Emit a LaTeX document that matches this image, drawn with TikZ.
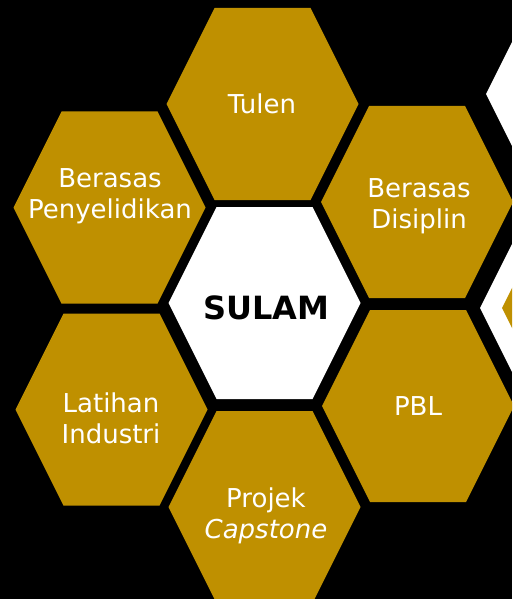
\documentclass[tikz,border=0pt]{standalone}
\usepackage{fontspec}
\setmainfont{DejaVu Sans}
\definecolor{gold}{HTML}{BF9000}
% hexagon with pointed left/right ends: centre x, centre y, half width, colour
\newcommand{\hexcell}[4]{%
  \fill[#4] (#1-#3,#2) -- (#1-#3/2,#2-#3) -- (#1+#3/2,#2-#3)
    -- (#1+#3,#2) -- (#1+#3/2,#2+#3) -- (#1-#3/2,#2+#3) -- cycle;}
\tikzset{
  celltext/.style={text=white,align=center,inner sep=0pt,
    font=\fontsize{19.5}{23.25}\selectfont},
  hubtext/.style={text=black,inner sep=0pt,
    font=\fontsize{24}{28}\selectfont\bfseries}
}
\begin{document}
\begin{tikzpicture}[x=0.75pt,y=-0.75pt]
  \fill[black] (0,0) rectangle (512,599);
  \clip (0,0) rectangle (512,599);
  \hexcell{262.5}{104}{96}{gold}
  \hexcell{109.5}{207.5}{96}{gold}
  \hexcell{111.5}{409.5}{96}{gold}
  \hexcell{264.5}{303}{96}{white}
  \hexcell{264.5}{507}{96}{gold}
  \hexcell{417}{202}{96}{gold}
  \hexcell{418}{406}{96}{gold}
  \hexcell{582}{94}{96}{white}
  \hexcell{576}{308}{96}{white}
  \hexcell{576}{308}{74}{gold}
  \node[celltext] (tulen) at (262,104) {Tulen};
  \node[celltext] (penyelidikan) at (110,196) {Berasas\\Penyelidikan};
  \node[celltext] (disiplin) at (419,206) {Berasas\\Disiplin};
  \node[hubtext] (sulam) at (266.5,308) {SULAM};
  \node[celltext] (industri) at (111,418) {Latihan\\Industri};
  \node[celltext] (capstone) at (266,516) {Projek\\\textit{Capstone}};
  \node[celltext] (pbl) at (418,406.5) {PBL};
\end{tikzpicture}
\end{document}
